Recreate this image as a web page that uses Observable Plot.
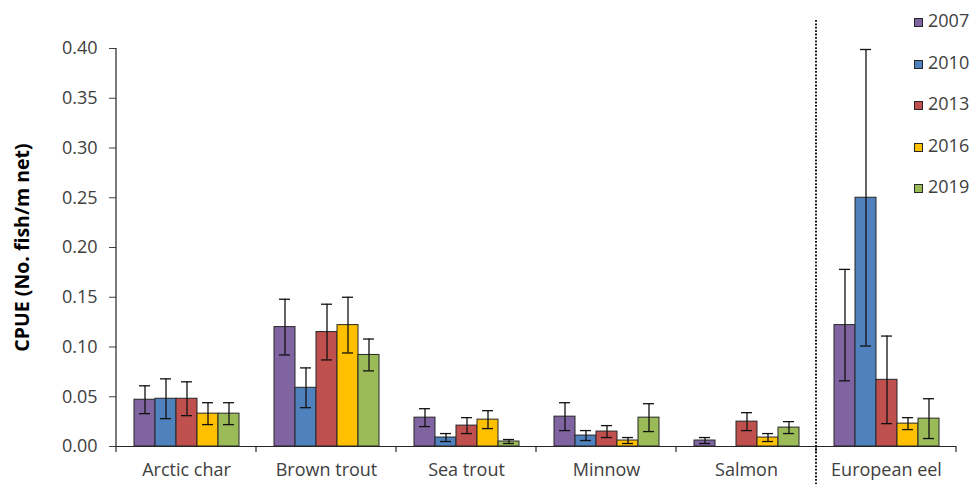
<!DOCTYPE html>
<html>
<head>
<meta charset="utf-8">
<script src="https://cdn.jsdelivr.net/npm/d3@7"></script>
<script src="https://cdn.jsdelivr.net/npm/@observablehq/plot@0.6"></script>
<style>
  html, body { margin: 0; padding: 0; background: #fff; }
  #wrap { position: relative; width: 974px; height: 487px; font-family: "Open Sans", sans-serif; }
  #wrap svg { overflow: visible; }
  .legend { position: absolute; left: 0; top: 0; pointer-events: none; }
  .legend .sw { position: absolute; width: 7px; height: 7px; border: 1px solid #262626; }
  .legend .lb { position: absolute; font-size: 18px; line-height: 18px; color: #404040; }
</style>
</head>
<body>
<div id="wrap"></div>
<script>
// Catch per unit effort by species and survey year
const categories = ["Arctic char", "Brown trout", "Sea trout", "Minnow", "Salmon", "European eel"];
const years = ["2007", "2010", "2013", "2016", "2019"];
const colors = ["#8064A2", "#4F81BD", "#C0504D", "#FFC000", "#9BBB59"];

// Mean CPUE per species (same order as categories); null = not caught
const cpue2007 = [0.047, 0.120, 0.029, 0.030, 0.006, 0.122];
const cpue2010 = [0.048, 0.059, 0.009, 0.011, null, 0.250];
const cpue2013 = [0.048, 0.115, 0.021, 0.015, 0.025, 0.067];
const cpue2016 = [0.033, 0.122, 0.027, 0.006, 0.009, 0.023];
const cpue2019 = [0.033, 0.092, 0.005, 0.029, 0.019, 0.028];

// Error bar half-widths
const err2007 = [0.014, 0.028, 0.009, 0.014, 0.003, 0.056];
const err2010 = [0.020, 0.020, 0.004, 0.005, null, 0.149];
const err2013 = [0.017, 0.028, 0.008, 0.006, 0.009, 0.044];
const err2016 = [0.011, 0.028, 0.009, 0.003, 0.004, 0.006];
const err2019 = [0.011, 0.016, 0.002, 0.014, 0.006, 0.020];

const yTicks = [0, 0.05, 0.10, 0.15, 0.20, 0.25, 0.30, 0.35, 0.40];

const series = [cpue2007, cpue2010, cpue2013, cpue2016, cpue2019];
const errors = [err2007, err2010, err2013, err2016, err2019];

const rows = [];
years.forEach((year, j) => {
  categories.forEach((cat, i) => {
    const v = series[j][i];
    if (v == null) return;
    const e = errors[j][i];
    rows.push({cat, year, v, lo: v - e, hi: v + e});
  });
});

const ink = "#262626";

const chart = Plot.plot({
  width: 974,
  height: 487,
  marginLeft: 115,
  marginRight: 17,
  marginTop: 48,
  marginBottom: 41,
  style: {fontFamily: "Open Sans, sans-serif", fontSize: "18px", color: "#404040", background: "#fff"},
  fx: {domain: categories, padding: 0, axis: "bottom", label: null, tickSize: 0, tickPadding: 17},
  x: {domain: years, paddingInner: 0, paddingOuter: 0.763, axis: null},
  y: {
    domain: [0, 0.4], ticks: yTicks, tickFormat: ".2f", tickSize: 7, tickPadding: 12,
    label: "CPUE (No. fish/m net)", labelAnchor: "center", labelArrow: "none", labelOffset: 101
  },
  color: {domain: years, range: colors},
  marks: [
    Plot.barY(rows, {fx: "cat", x: "year", y: "v", fill: "year", stroke: ink, strokeWidth: 1}),
    Plot.ruleX(rows, {fx: "cat", x: "year", y1: "lo", y2: "hi", stroke: "#111", strokeWidth: 1.3}),
    Plot.tickY(rows, {fx: "cat", x: "year", y: "lo", stroke: "#111", strokeWidth: 1.3, insetLeft: 5, insetRight: 5}),
    Plot.tickY(rows, {fx: "cat", x: "year", y: "hi", stroke: "#111", strokeWidth: 1.3, insetLeft: 5, insetRight: 5}),
    Plot.ruleY([0], {stroke: ink, strokeWidth: 1.2})
  ]
});

// Style the axis label in bold
d3.select(chart).selectAll("g[aria-label='y-axis label'] text")
  .attr("font-weight", "bold").attr("fill", "#000").attr("font-size", "19.5px");

// Axis line and category boundary ticks from the plot's own scales
const fx = chart.scale("fx");
const y = chart.scale("y");
const y0 = y.apply(0);
const svg = d3.select(chart);
const g = svg.append("g").attr("stroke", ink).attr("fill", "none");
const x0 = fx.apply(categories[0]);
g.append("line").attr("x1", x0).attr("x2", x0)
  .attr("y1", y.apply(0.4)).attr("y2", y0).attr("stroke-width", 1.2);
const edges = categories.map((c) => fx.apply(c)).concat([fx.apply(categories[categories.length - 1]) + fx.bandwidth]);
edges.forEach((xe) => {
  g.append("line").attr("x1", xe).attr("x2", xe).attr("y1", y0).attr("y2", y0 + 6).attr("stroke-width", 1.2);
});

// Dotted separator before European eel
const xs = fx.apply("European eel");
svg.append("line")
  .attr("x1", xs).attr("x2", xs).attr("y1", 20).attr("y2", 484)
  .attr("stroke", "#000").attr("stroke-width", 1.8).attr("stroke-dasharray", "1.8 1.6");

const wrap = document.getElementById("wrap");
wrap.appendChild(chart);

// Year legend at top right
const legend = document.createElement("div");
legend.className = "legend";
years.forEach((yr, i) => {
  const sw = document.createElement("div");
  sw.className = "sw";
  sw.style.left = "914px";
  sw.style.top = (18 + i * 41.5) + "px";
  sw.style.background = colors[i];
  legend.appendChild(sw);
  const lb = document.createElement("div");
  lb.className = "lb";
  lb.style.left = "928px";
  lb.style.top = (11 + i * 41.5) + "px";
  lb.textContent = yr;
  legend.appendChild(lb);
});
wrap.appendChild(legend);
</script>
</body>
</html>
